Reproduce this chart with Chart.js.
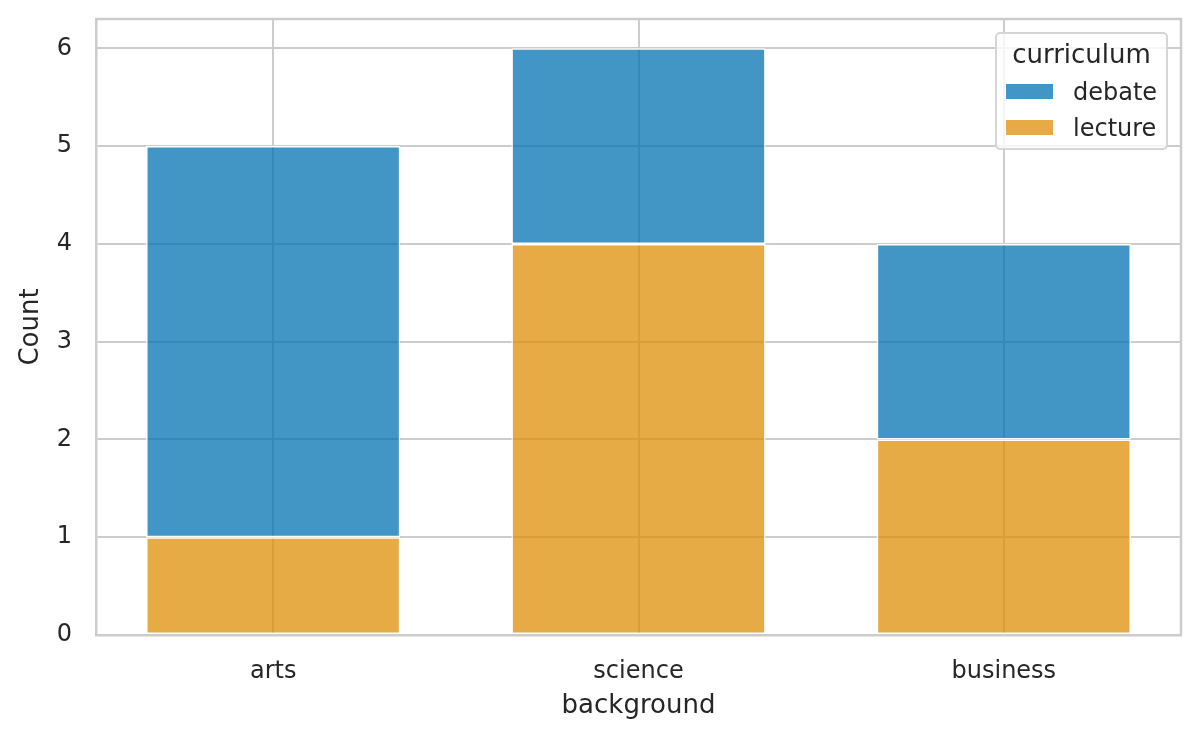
<!DOCTYPE html>
<html>
<head>
<meta charset="utf-8">
<script src="https://cdn.jsdelivr.net/npm/chart.js@4"></script>
<style>
  html, body { margin: 0; padding: 0; background: #fff; }
  #wrap { position: relative; width: 1200px; height: 740px; }
  #legend {
    position: absolute; left: 995px; top: 32px; width: 173px; height: 118px;
    box-sizing: border-box; border: 2px solid #d6d6d6; border-radius: 5px;
    background: rgba(255,255,255,0.8);
    font-family: "DejaVu Sans", sans-serif; color: #262626;
  }
  #legend .title { position: absolute; left: 0; right: 0; top: 4px; text-align: center; font-size: 26px; line-height: 32px; }
  #legend .row { position: absolute; left: 9px; font-size: 24px; height: 28px; line-height: 28px; white-space: nowrap; }
  #legend .sw { display: inline-block; width: 47px; height: 15px; vertical-align: middle; margin-right: 20px; position: relative; top: -2px; }
</style>
</head>
<body>
<div id="wrap">
  <canvas id="chart" width="1200" height="740"></canvas>
  <div id="legend"></div>
</div>
<script>
const categories = ['arts', 'science', 'business'];
const lectureCounts = [1, 4, 2];
const debateCounts = [4, 2, 2];
const yTicks = [0, 1, 2, 3, 4, 5, 6];

const debateColor = 'rgba(1, 115, 178, 0.75)';
const lectureColor = 'rgba(222, 143, 5, 0.75)';
const gridColor = '#cccccc';
const textColor = '#262626';
const font = "'DejaVu Sans', sans-serif";

const toPoints = arr => arr.map((v, i) => ({ x: i, y: v }));

const ctx = document.getElementById('chart').getContext('2d');
const chart = new Chart(ctx, {
    type: 'bar',
    data: {
        datasets: [
            {
                label: 'lecture',
                data: toPoints(lectureCounts),
                backgroundColor: lectureColor,
                borderColor: '#ffffff',
                borderWidth: 1.5,
                borderSkipped: false,
                barPercentage: 1,
                categoryPercentage: 0.696
            },
            {
                label: 'debate',
                data: toPoints(debateCounts),
                backgroundColor: debateColor,
                borderColor: '#ffffff',
                borderWidth: 1.5,
                borderSkipped: false,
                barPercentage: 1,
                categoryPercentage: 0.696
            }
        ]
    },
    options: {
        responsive: false,
        animation: false,
        layout: { padding: { left: 0, right: 19, top: 19, bottom: 0 } },
        scales: {
            x: {
                type: 'linear',
                stacked: true,
                offset: false,
                min: -0.485,
                max: 2.485,
                afterBuildTicks: axis => { axis.ticks = categories.map((c, i) => ({ value: i })); },
                afterFit: axis => { axis.height = 105; },
                grid: { color: gridColor, lineWidth: 2, drawTicks: false, offset: false },
                border: { color: gridColor, width: 2.5 },
                ticks: {
                    color: textColor,
                    font: { family: font, size: 24 },
                    padding: 22,
                    maxRotation: 0,
                    callback: value => categories[value]
                },
                title: {
                    display: true,
                    text: 'background',
                    color: textColor,
                    font: { family: font, size: 26 },
                    padding: { top: 0, bottom: 18 }
                }
            },
            y: {
                stacked: true,
                min: 0,
                max: 6.3,
                afterBuildTicks: axis => { axis.ticks = yTicks.map(v => ({ value: v })); },
                afterFit: axis => {
                    axis.width = 96;
                    axis.paddingTop = 0;
                    axis.paddingBottom = 0;
                },
                grid: { color: gridColor, lineWidth: 2, drawTicks: false },
                border: { color: gridColor, width: 2.5 },
                ticks: {
                    color: textColor,
                    font: { family: font, size: 24 },
                    padding: 24
                },
                title: {
                    display: true,
                    text: 'Count',
                    color: textColor,
                    font: { family: font, size: 26 },
                    padding: { top: 16, bottom: 0 }
                }
            }
        },
        plugins: {
            legend: { display: false },
            tooltip: { enabled: false }
        }
    },
    plugins: [{
        // top and right spines like seaborn whitegrid
        id: 'frame',
        afterDraw(c) {
            const a = c.chartArea, g = c.ctx;
            g.save();
            g.strokeStyle = gridColor;
            g.lineWidth = 2.5;
            g.beginPath();
            g.moveTo(a.left, a.top); g.lineTo(a.right, a.top); g.lineTo(a.right, a.bottom);
            g.stroke();
            g.restore();
        }
    }]
});

// legend: debate first, lecture second
const legendEl = document.getElementById('legend');
legendEl.innerHTML = '<div class="title">curriculum</div>';
const legendItems = [['debate', debateColor], ['lecture', lectureColor]];
legendItems.forEach(([name, color], i) => {
    const row = document.createElement('div');
    row.className = 'row';
    row.style.top = (44 + i * 36) + 'px';
    row.innerHTML = '<span class="sw" style="background:' + color + '"></span>' + name;
    legendEl.appendChild(row);
});
</script>
</body>
</html>
